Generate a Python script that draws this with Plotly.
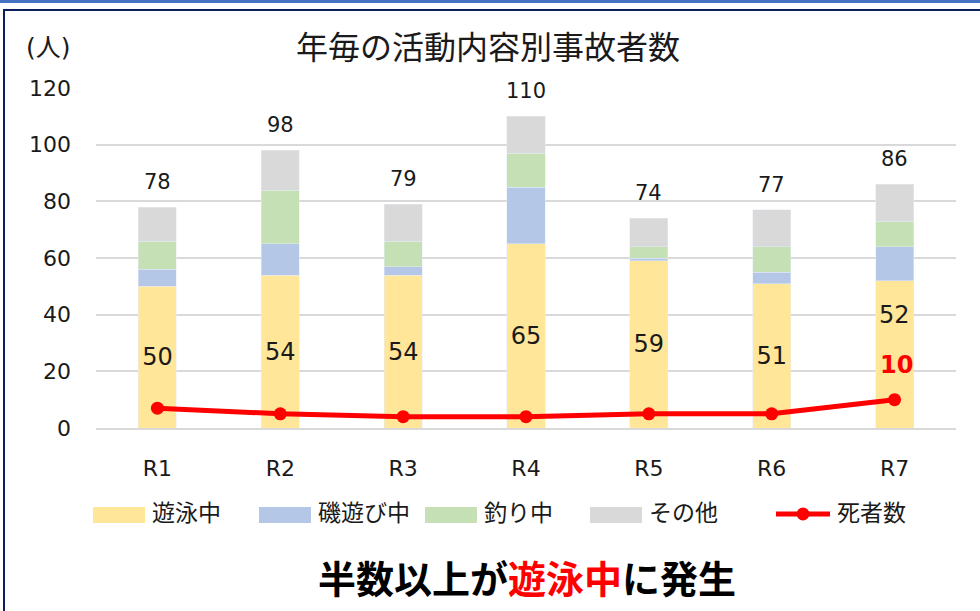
import plotly.graph_objects as go

# ---- data ----
categories = ["R1", "R2", "R3", "R4", "R5", "R6", "R7"]
swim = [50, 54, 54, 65, 59, 51, 52]        # 遊泳中
iso = [6, 11, 3, 20, 1, 4, 12]             # 磯遊び中
fishing = [10, 19, 9, 12, 4, 9, 9]         # 釣り中
other = [12, 14, 13, 13, 10, 13, 13]       # その他
deaths = [7, 5, 4, 4, 5, 5, 10]            # 死者数
totals = [78, 98, 79, 110, 74, 77, 86]
series_names = ["遊泳中", "磯遊び中", "釣り中", "その他", "死者数"]
y_ticks = [0, 20, 40, 60, 80, 100, 120]

colors = ["#FFE699", "#B4C7E7", "#C5E0B4", "#D9D9D9"]
RED = "#FF0000"
TXT = "#1a1a1a"
NUMFONT = "DejaVu Sans, Noto Sans CJK JP"
JPFONT = "Noto Sans CJK JP"

W, H = 980, 611
L, R, T, B = 96, 24, 88, 183
PW, PH = W - L - R, H - T - B


def px_x(x):
    return (x - L) / PW


def px_y(y):
    return (H - B - y) / PH


fig = go.Figure()

swim_text = [str(v) if c != "R7" else "" for c, v in zip(categories, swim)]
fig.add_trace(go.Bar(x=categories, y=swim, name=series_names[0], marker_color=colors[0],
                     text=swim_text, textposition="inside", insidetextanchor="middle",
                     constraintext="none",
                     textfont=dict(size=24, color=TXT, family=NUMFONT)))
for vals, nm, col in [(iso, series_names[1], colors[1]),
                      (fishing, series_names[2], colors[2]),
                      (other, series_names[3], colors[3])]:
    fig.add_trace(go.Bar(x=categories, y=vals, name=nm, marker_color=col))

fig.add_trace(go.Scatter(x=categories, y=deaths, name=series_names[4], mode="lines+markers",
                         line=dict(color=RED, width=5), marker=dict(color=RED, size=13)))

annotations = []
# totals above bars
for c, t in zip(categories, totals):
    annotations.append(dict(x=c, y=t, xref="x", yref="y", text=str(t), showarrow=False,
                            yanchor="middle", yshift=25,
                            font=dict(size=21, color=TXT, family=NUMFONT)))
# R7 swim label (moved up) and death label
annotations.append(dict(x=categories[6], y=40, xref="x", yref="y", text=str(swim[6]),
                        showarrow=False, yanchor="middle",
                        font=dict(size=24, color=TXT, family=NUMFONT)))
annotations.append(dict(x=categories[6], y=deaths[6], xref="x", yref="y",
                        text="<b>%d</b>" % deaths[6], showarrow=False, yanchor="middle",
                        yshift=35, xshift=2, font=dict(size=24, color=RED, family=NUMFONT)))
# title, unit
annotations.append(dict(x=px_x(488), y=px_y(45), xref="paper", yref="paper",
                        text="年毎の活動内容別事故者数", showarrow=False,
                        xanchor="center", yanchor="middle",
                        font=dict(size=32, color=TXT, family=JPFONT)))
annotations.append(dict(x=px_x(48), y=px_y(48), xref="paper", yref="paper",
                        text="(人)", showarrow=False, xanchor="center", yanchor="middle",
                        font=dict(size=25, color=TXT, family=NUMFONT)))
# bottom message
annotations.append(dict(x=px_x(527), y=px_y(576), xref="paper", yref="paper",
                        text="<b>半数以上が<span style='color:#FF0000'>遊泳中</span>に発生</b>",
                        showarrow=False, xanchor="center", yanchor="middle",
                        font=dict(size=38, color="#000000", family=JPFONT)))

shapes = []
# custom legend
leg_sw = [(93, 145), (259, 311), (425, 477), (590, 642)]
for (x0, x1), nm, col in zip(leg_sw, series_names[:4], colors):
    shapes.append(dict(type="rect", xref="paper", yref="paper",
                       x0=px_x(x0), x1=px_x(x1), y0=px_y(523), y1=px_y(507),
                       fillcolor=col, line=dict(width=0)))
    annotations.append(dict(x=px_x(x1 + 5), y=px_y(511), xref="paper", yref="paper",
                            text=nm, showarrow=False, xanchor="left", yanchor="middle",
                            font=dict(size=23, color=TXT, family=JPFONT)))
shapes.append(dict(type="line", xref="paper", yref="paper", x0=px_x(776), x1=px_x(830),
                   y0=px_y(514), y1=px_y(514), line=dict(color=RED, width=5)))
shapes.append(dict(type="circle", xref="paper", yref="paper", x0=px_x(796.5), x1=px_x(809.5),
                   y0=px_y(520.5), y1=px_y(507.5), fillcolor=RED, line=dict(width=0)))
annotations.append(dict(x=px_x(835), y=px_y(511), xref="paper", yref="paper",
                        text=series_names[4], showarrow=False, xanchor="left", yanchor="middle",
                        font=dict(size=23, color=TXT, family=JPFONT)))

# frame decorations
shapes.append(dict(type="rect", xref="paper", yref="paper", x0=px_x(0), x1=px_x(980),
                   y0=px_y(3), y1=px_y(0), fillcolor="#4472C4", line=dict(width=0)))
shapes.append(dict(type="rect", xref="paper", yref="paper", x0=px_x(3), x1=px_x(980),
                   y0=px_y(11), y1=px_y(9), fillcolor="#0A1F5C", line=dict(width=0)))
shapes.append(dict(type="rect", xref="paper", yref="paper", x0=px_x(3), x1=px_x(5),
                   y0=px_y(611), y1=px_y(9), fillcolor="#0A1F5C", line=dict(width=0)))

fig.update_layout(
    width=W, height=H, barmode="stack", bargap=0.69,
    margin=dict(l=L, r=R, t=T, b=B),
    paper_bgcolor="white", plot_bgcolor="white",
    showlegend=False,
    annotations=annotations, shapes=shapes,
    font=dict(family=NUMFONT, color=TXT),
)
fig.update_yaxes(range=[0, 120], tickvals=y_ticks, showgrid=True, gridcolor="#D9D9D9",
                 gridwidth=1.5, zeroline=False, showline=False,
                 tickfont=dict(size=22, color=TXT, family=NUMFONT), ticklabelstandoff=24)
fig.update_xaxes(showgrid=False, showline=True, linecolor="#D9D9D9", linewidth=1.5,
                 tickfont=dict(size=22, color=TXT, family=NUMFONT), ticklabelstandoff=20)

fig.write_html("out.html", config={"displayModeBar": False},
               post_script="document.body.style.margin='0';document.body.style.padding='0';"
                           "document.documentElement.style.overflow='hidden';")
